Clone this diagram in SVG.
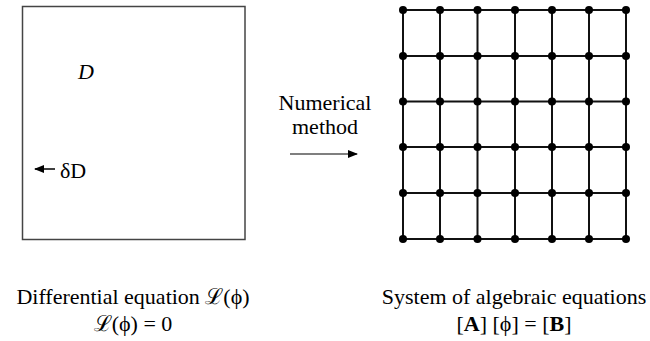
<svg xmlns="http://www.w3.org/2000/svg" width="650" height="341" viewBox="0 0 650 341">
<style>
text{font-family:"Liberation Serif","DejaVu Serif",serif;fill:#000;font-size:22px}
.g{stroke:#111;stroke-width:2;fill:none}
.dot{fill:#000}
</style>
<defs>
<marker id="ah" markerWidth="10" markerHeight="8" refX="9" refY="4" orient="auto" markerUnits="userSpaceOnUse">
<path d="M0,0 L10,4 L0,8 Z" fill="#000"/>
</marker>
</defs>
<rect width="650" height="341" fill="#fff"/>
<g id="domain">
<rect x="22.5" y="6.5" width="222.5" height="233" fill="none" stroke="#444" stroke-width="1.5"/>
<text x="78" y="79" font-style="italic" font-size="20">D</text>
<text x="60" y="178" font-size="20">δD</text>
</g>
<g id="grid">
<g class="g">
<path d="M403,10H626M403,56H626M403,101.5H626M403,147H626M403,193H626M403,239H626"/>
<path d="M403,10V239M440,10V239M477.5,10V239M515,10V239M552,10V239M589,10V239M626,10V239"/>
</g>
<g class="dot">
<circle cx="403" cy="10" r="4"/><circle cx="440" cy="10" r="4"/><circle cx="477.5" cy="10" r="4"/><circle cx="515" cy="10" r="4"/><circle cx="552" cy="10" r="4"/><circle cx="589" cy="10" r="4"/><circle cx="626" cy="10" r="4"/>
<circle cx="403" cy="56" r="4"/><circle cx="440" cy="56" r="4"/><circle cx="477.5" cy="56" r="4"/><circle cx="515" cy="56" r="4"/><circle cx="552" cy="56" r="4"/><circle cx="589" cy="56" r="4"/><circle cx="626" cy="56" r="4"/>
<circle cx="403" cy="101.5" r="4"/><circle cx="440" cy="101.5" r="4"/><circle cx="477.5" cy="101.5" r="4"/><circle cx="515" cy="101.5" r="4"/><circle cx="552" cy="101.5" r="4"/><circle cx="589" cy="101.5" r="4"/><circle cx="626" cy="101.5" r="4"/>
<circle cx="403" cy="147" r="4"/><circle cx="440" cy="147" r="4"/><circle cx="477.5" cy="147" r="4"/><circle cx="515" cy="147" r="4"/><circle cx="552" cy="147" r="4"/><circle cx="589" cy="147" r="4"/><circle cx="626" cy="147" r="4"/>
<circle cx="403" cy="193" r="4"/><circle cx="440" cy="193" r="4"/><circle cx="477.5" cy="193" r="4"/><circle cx="515" cy="193" r="4"/><circle cx="552" cy="193" r="4"/><circle cx="589" cy="193" r="4"/><circle cx="626" cy="193" r="4"/>
<circle cx="403" cy="239" r="4"/><circle cx="440" cy="239" r="4"/><circle cx="477.5" cy="239" r="4"/><circle cx="515" cy="239" r="4"/><circle cx="552" cy="239" r="4"/><circle cx="589" cy="239" r="4"/><circle cx="626" cy="239" r="4"/>
</g>
</g>
<g id="connectors">
<line x1="55" y1="169" x2="35" y2="169" stroke="#000" stroke-width="1.5" marker-end="url(#ah)"/>
<line x1="290" y1="154" x2="357" y2="154" stroke="#000" stroke-width="1.2" marker-end="url(#ah)"/>
</g>
<g id="method-label">
<text x="325" y="110" text-anchor="middle">Numerical</text>
<text x="325" y="134" text-anchor="middle">method</text>
</g>
<g id="left-caption">
<text x="133" y="304" text-anchor="middle">Differential equation  ℒ(ϕ)</text>
<text x="133" y="331" text-anchor="middle">ℒ(ϕ) = 0</text>
</g>
<g id="right-caption">
<text x="514" y="304" text-anchor="middle">System of algebraic equations</text>
<text x="514" y="331" text-anchor="middle">[<tspan font-weight="bold">A</tspan>] [ϕ] = [<tspan font-weight="bold">B</tspan>]</text>
</g>
</svg>
